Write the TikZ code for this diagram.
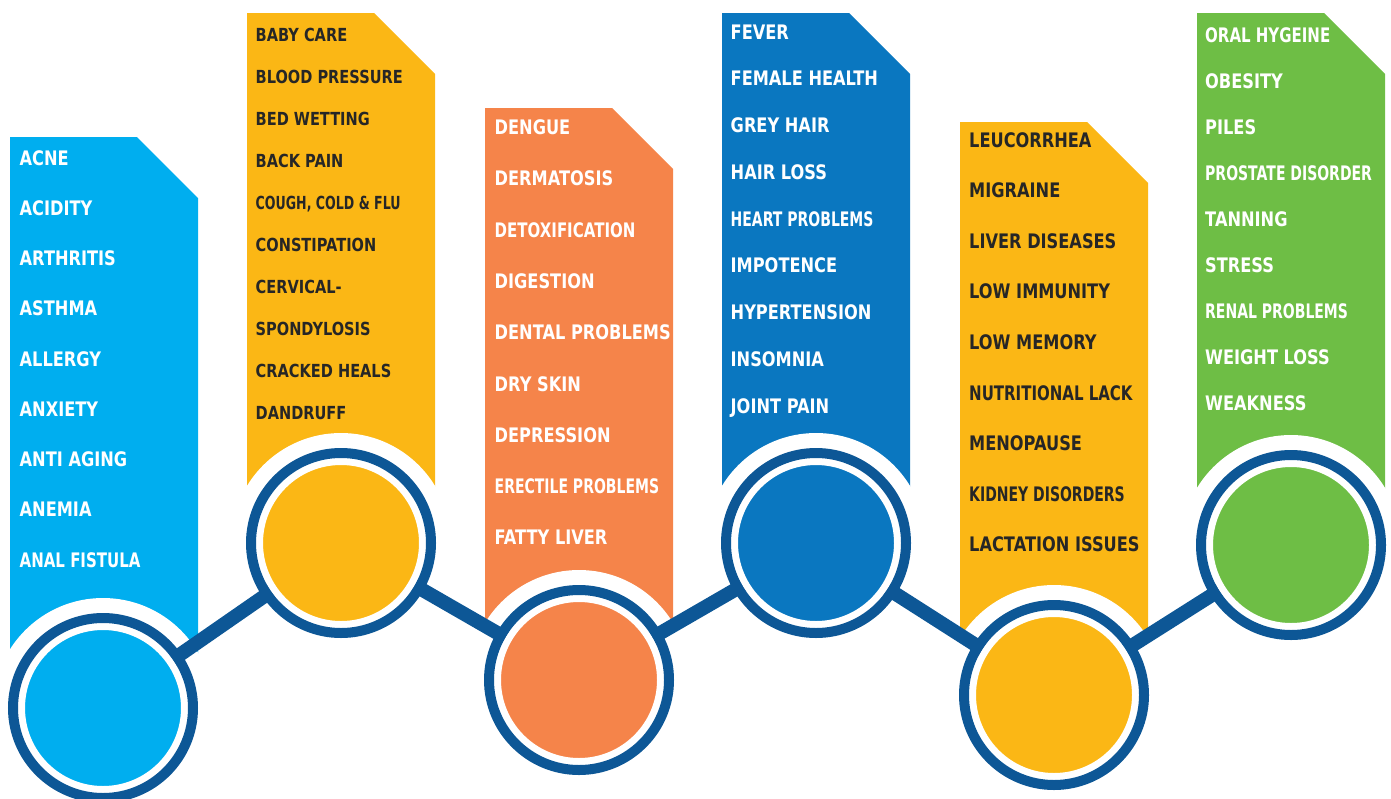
\documentclass[tikz,border=0pt]{standalone}
\usepackage{fontspec}
\newfontfamily\cardfont[FakeStretch=0.81]{DejaVu Sans}
\newfontfamily\trimfont[FakeStretch=0.75]{DejaVu Sans}
\newfontfamily\slimfont[FakeStretch=0.70]{DejaVu Sans}

\definecolor{skyblue}{HTML}{00AEEF}
\definecolor{sunyellow}{HTML}{FBB715}
\definecolor{carrot}{HTML}{F5844A}
\definecolor{oceanblue}{HTML}{0A77C0}
\definecolor{leafgreen}{HTML}{6EBE45}
\definecolor{ringblue}{HTML}{0D5796}
\definecolor{inkdark}{HTML}{262626}

\begin{document}
\begin{tikzpicture}[x=1pt,y=-1pt,
		item/.style={anchor=base west,inner sep=0pt,text=white,font=\cardfont\bfseries\fontsize{20}{20}\selectfont},
		darkitem/.style={item,text=inkdark},
		dot/.style={circle,inner sep=0pt,minimum size=163pt,draw=white,line width=7pt,fill=#1},
		link/.style={ringblue,line width=14pt}
		]
		\useasboundingbox (0,0) rectangle (1391,798);
		% centres of the circles
		\coordinate (p1) at (103,708);
		\coordinate (p2) at (341,543);
		\coordinate (p3) at (579,680);
		\coordinate (p4) at (816,543);
		\coordinate (p5) at (1054,695);
		\coordinate (p6) at (1291,545);
		
		% cards
		\fill[skyblue] (10,137) -- (137,137) -- (198,198) -- (198,708) -- (10,708) -- cycle;
		\fill[sunyellow] (247,13) -- (374,13) -- (435,74) -- (435,543) -- (247,543) -- cycle;
		\fill[carrot] (485,108) -- (612,108) -- (673,169) -- (673,680) -- (485,680) -- cycle;
		\fill[oceanblue] (722,13) -- (849,13) -- (910,74) -- (910,543) -- (722,543) -- cycle;
		\fill[sunyellow] (960,122) -- (1087,122) -- (1148,183) -- (1148,695) -- (960,695) -- cycle;
		\fill[leafgreen] (1197,13) -- (1324,13) -- (1385,74) -- (1385,545) -- (1197,545) -- cycle;
		
		% white halo round each circle
		\foreach \p in {p1,p2,p3,p4,p5,p6}
			\fill[white] (\p) circle (110);
		
		% the line joining the circles
		\draw[link] (p1) -- (p2) -- (p3) -- (p4) -- (p5) -- (p6);
		
		% circles
		\node[dot=skyblue] (c1) at (p1) {};
		\node[dot=sunyellow] (c2) at (p2) {};
		\node[dot=carrot] (c3) at (p3) {};
		\node[dot=oceanblue] (c4) at (p4) {};
		\node[dot=sunyellow] (c5) at (p5) {};
		\node[dot=leafgreen] (c6) at (p6) {};
		\foreach \c in {c1,c2,c3,c4,c5,c6}
			\draw[ringblue,line width=10pt] (\c) circle (90);
		
		% texts
		\foreach \t [count=\i from 0] in {ACNE,ACIDITY,ARTHRITIS,ASTHMA,ALLERGY,ANXIETY,ANTI AGING,ANEMIA,{\trimfont ANAL FISTULA}}
			\node[item] (a\i) at (19.5,165+50.25*\i) {\t};
		\foreach \t [count=\i from 0] in {BABY CARE,BLOOD PRESSURE,BED WETTING,BACK PAIN,{\slimfont COUGH, COLD \& FLU},CONSTIPATION,CERVICAL-,SPONDYLOSIS,CRACKED HEALS,DANDRUFF}
			\node[darkitem,font=\cardfont\bfseries\fontsize{18}{18}\selectfont] (b\i) at (255.5,41+42*\i) {\t};
		\foreach \t [count=\i from 0] in {DENGUE,DERMATOSIS,{\trimfont DETOXIFICATION},DIGESTION,DENTAL PROBLEMS,DRY SKIN,DEPRESSION,{\slimfont ERECTILE PROBLEMS},FATTY LIVER}
			\node[item] (d\i) at (494.5,134.5+51.3*\i) {\t};
		\foreach \t [count=\i from 0] in {FEVER,FEMALE HEALTH,GREY HAIR,HAIR LOSS,{\slimfont HEART PROBLEMS},IMPOTENCE,HYPERTENSION,INSOMNIA,JOINT PAIN}
			\node[item] (f\i) at (730.5,39+46.75*\i) {\t};
		\foreach \t [count=\i from 0] in {LEUCORRHEA,MIGRAINE,LIVER DISEASES,LOW IMMUNITY,LOW MEMORY,{\trimfont NUTRITIONAL LACK},MENOPAUSE,{\slimfont KIDNEY DISORDERS},LACTATION ISSUES}
			\node[darkitem] (l\i) at (969,147+50.6*\i) {\t};
		\foreach \t [count=\i from 0] in {{\trimfont ORAL HYGEINE},OBESITY,PILES,{\slimfont PROSTATE DISORDER},TANNING,STRESS,{\slimfont RENAL PROBLEMS},WEIGHT LOSS,WEAKNESS}
			\node[item] (o\i) at (1205,42+46*\i) {\t};
\end{tikzpicture}
\end{document}
